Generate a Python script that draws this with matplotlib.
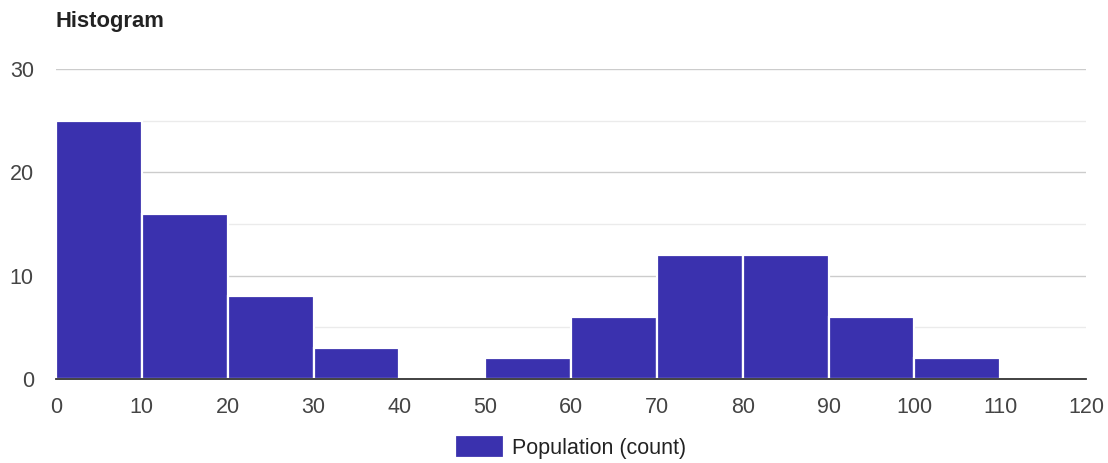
import numpy as np
import matplotlib.pyplot as plt

plt.rcParams['font.family'] = ['Liberation Sans', 'DejaVu Sans']

# Histogram bins (left edges) and counts
bin_edges = [0, 10, 20, 30, 40, 50, 60, 70, 80, 90, 100, 110, 120]
counts = [25, 16, 8, 3, 0, 2, 6, 12, 12, 6, 2, 0]
x_ticks = [0, 10, 20, 30, 40, 50, 60, 70, 80, 90, 100, 110, 120]
y_ticks = [0, 10, 20, 30]
series_name = 'Population (count)'

bar_color = '#3a31ae'
label_color = '#444444'

fig = plt.figure(figsize=(11.08, 4.63), dpi=100)
ax = fig.add_axes([56 / 1108, 1 - 379 / 463, 1030 / 1108, 310 / 463])

lefts = np.array(bin_edges[:-1])
widths = np.diff(bin_edges)
bars = ax.bar(lefts, counts, width=widths, align='edge', color=bar_color,
              edgecolor='white', linewidth=1.6, label=series_name, zorder=3)

ax.set_xlim(0, 120)
ax.set_ylim(0, 30)
ax.set_xticks(x_ticks)
ax.set_yticks(y_ticks)
ax.set_yticks([5, 15, 25], minor=True)

# gridlines: major darker, minor lighter
ax.grid(axis='y', which='major', color='#cccccc', linewidth=1, zorder=0)
ax.grid(axis='y', which='minor', color='#ebebeb', linewidth=1, zorder=0)
ax.grid(axis='x', visible=False)

for side in ['top', 'right', 'left']:
    ax.spines[side].set_visible(False)
ax.spines['bottom'].set_color('#333333')
ax.spines['bottom'].set_linewidth(1.3)
ax.spines['bottom'].set_zorder(4)

ax.tick_params(axis='both', which='both', length=0, labelsize=15.5,
               labelcolor=label_color)
ax.tick_params(axis='y', pad=16)
ax.tick_params(axis='x', pad=13)

fig.text(56 / 1108, 1 - 22 / 463, 'Histogram', fontsize=15.8, fontweight='bold',
         color='#222222', ha='left', va='center')

fig.legend(handles=[bars], labels=[series_name], loc='center',
           bbox_to_anchor=(571 / 1108, 1 - 447 / 463), frameon=False,
           fontsize=15.5, handlelength=2.25, handleheight=1.3,
           handletextpad=0.4, labelcolor='#222222')

fig.savefig('out.png', dpi=100)
